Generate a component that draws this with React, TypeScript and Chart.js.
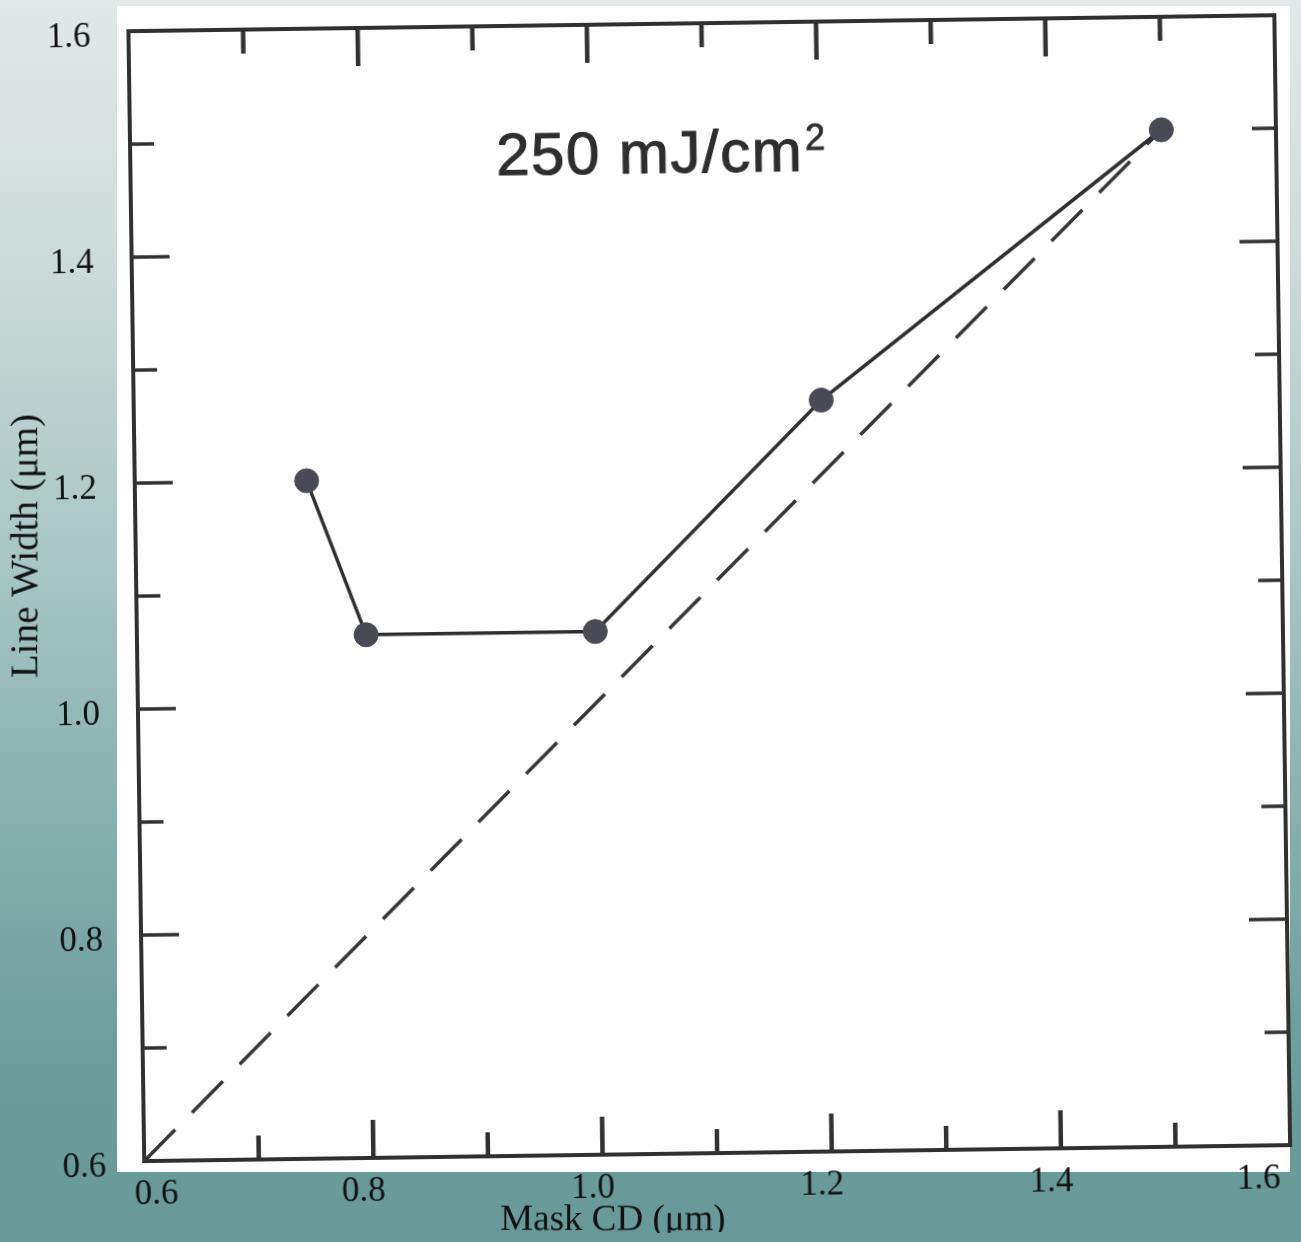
import React, { useEffect, useRef } from "react";
import { Chart, registerables } from "chart.js";

Chart.register(...registerables);

// ---- data ----
const maskCD = [0.75, 0.8, 1.0, 1.2, 1.5];
const lineWidthUm = [1.2, 1.063, 1.063, 1.265, 1.5];
const idealX = [0.6, 1.5];
const idealY = [0.6, 1.5];
const majorTicks = [0.6, 0.8, 1.0, 1.2, 1.4, 1.6];
const minorTicks = [0.7, 0.9, 1.1, 1.3, 1.5];
const titleMain = "250 mJ/cm";
const titleSup = "2";
const xTitle = "Mask CD (\u03bcm)";
const yTitle = "Line Width (\u03bcm)";

const TILT_DEG = -0.8;
const INK = "#303030";
const SERIF = "'Liberation Serif', 'Times New Roman', serif";
const SANS = "'Liberation Sans', Arial, sans-serif";

const framePlugin = {
  id: "frame",
  beforeDatasetsDraw(chart: any) {
    const { ctx, chartArea: a, scales } = chart;
    const xs = scales.x;
    const ys = scales.y;
    ctx.save();
    ctx.strokeStyle = INK;
    ctx.lineCap = "butt";
    ctx.lineWidth = 4;
    ctx.strokeRect(a.left, a.top, a.right - a.left, a.bottom - a.top);
    const seg = (x1: number, y1: number, x2: number, y2: number) => {
      ctx.beginPath();
      ctx.moveTo(x1, y1);
      ctx.lineTo(x2, y2);
      ctx.stroke();
    };
    const inner = (v: number) => v > 0.61 && v < 1.59;
    const marks: [number, number][] = [
      ...majorTicks.filter(inner).map((v) => [v, 38] as [number, number]),
      ...minorTicks.map((v) => [v, 24] as [number, number]),
    ];
    ctx.lineWidth = 4.5;
    for (const [v, len] of marks) {
      const px = xs.getPixelForValue(v);
      seg(px, a.bottom, px, a.bottom - len);
      seg(px, a.top, px, a.top + len);
    }
    ctx.lineWidth = 3.5;
    for (const [v, len] of marks) {
      const py = ys.getPixelForValue(v);
      seg(a.left, py, a.left + len, py);
      seg(a.right, py, a.right - len, py);
    }
    ctx.restore();
  },
  afterDraw(chart: any) {
    const { ctx } = chart;
    ctx.save();
    // title inside the scanned plot (rotated with it)
    ctx.fillStyle = "#2e2e2e";
    ctx.strokeStyle = "#2e2e2e";
    ctx.lineWidth = 1.1;
    ctx.font = `60px ${SANS}`;
    (ctx as any).letterSpacing = "1.5px";
    ctx.textAlign = "left";
    ctx.textBaseline = "alphabetic";
    ctx.fillText(titleMain, 494, 182);
    ctx.strokeText(titleMain, 494, 182);
    (ctx as any).letterSpacing = "0px";
    ctx.font = `36px ${SANS}`;
    ctx.lineWidth = 0.8;
    ctx.fillText(titleSup, 803, 161);
    ctx.strokeText(titleSup, 803, 161);
    ctx.restore();

    // axis titles in page coordinates (undo the tilt)
    ctx.save();
    ctx.rotate((-TILT_DEG * Math.PI) / 180);
    ctx.fillStyle = "#111111";
    ctx.font = `37px ${SERIF}`;
    ctx.textAlign = "center";
    ctx.textBaseline = "alphabetic";
    ctx.fillText(xTitle, 613, 1230);
    ctx.translate(27, 546);
    ctx.rotate(-Math.PI / 2);
    ctx.font = `39px ${SERIF}`;
    ctx.textBaseline = "middle";
    ctx.fillText(yTitle, 0, 0);
    ctx.restore();
  },
};

export default function App() {
  const canvasRef = useRef<HTMLCanvasElement | null>(null);

  useEffect(() => {
    const canvas = canvasRef.current;
    if (!canvas) return;
    const tickFont = { family: SERIF, size: 35 };
    const chart = new Chart(canvas, {
      type: "line",
      data: {
        datasets: [
          {
            data: maskCD.map((x, i) => ({ x, y: lineWidthUm[i] })),
            borderColor: "#2e2e2e",
            borderWidth: 3.5,
            pointRadius: 12,
            pointBackgroundColor: "#4a4a56",
            pointBorderColor: "#4a4a56",
            pointBorderWidth: 1,
            tension: 0,
            fill: false,
          },
          {
            data: idealX.map((x, i) => ({ x, y: idealY[i] })),
            borderColor: "#353535",
            borderWidth: 3.5,
            borderDash: [44, 24],
            pointRadius: 0,
            tension: 0,
            fill: false,
          },
        ],
      },
      options: {
        animation: false,
        responsive: false,
        devicePixelRatio: 1,
        layout: { padding: { left: 0, top: 33, right: 27, bottom: 0 } },
        plugins: {
          legend: { display: false },
          tooltip: { enabled: false },
          title: { display: false },
        },
        scales: {
          x: {
            type: "linear",
            min: 0.6,
            max: 1.6,
            afterBuildTicks: (s: any) => {
              s.ticks = majorTicks.map((v) => ({ value: v }));
            },
            afterFit: (s: any) => {
              s.height = 79;
            },
            grid: { display: false, drawTicks: true, tickLength: 13 },
            border: { display: false },
            ticks: {
              font: tickFont,
              color: "#111111",
              padding: 0,
              align: "inner",
              labelOffset: -10,
              maxRotation: 0,
              autoSkip: false,
              callback: (v: any) => Number(v).toFixed(1),
            },
          },
          y: {
            type: "linear",
            min: 0.6,
            max: 1.6,
            afterBuildTicks: (s: any) => {
              s.ticks = majorTicks.map((v) => ({ value: v }));
            },
            afterFit: (s: any) => {
              s.width = 128;
            },
            grid: { display: false, drawTicks: true, tickLength: 36 },
            border: { display: false },
            ticks: {
              font: tickFont,
              color: "#111111",
              padding: 2,
              labelOffset: 6,
              autoSkip: false,
              callback: (v: any) => Number(v).toFixed(1),
            },
          },
        },
      },
      plugins: [framePlugin],
    } as any);
    return () => chart.destroy();
  }, []);

  return (
    <div
      style={{
        position: "fixed",
        left: 0,
        top: 0,
        width: 1301,
        height: 1242,
        overflow: "hidden",
        background:
          "linear-gradient(180deg, #e2e9e8 0%, #cbdad8 22%, #a9c6c4 45%, #87b0ae 66%, #6d9e9c 84%, #669997 100%)",
      }}
    >
      <div
        style={{
          position: "absolute",
          left: 117,
          top: 6,
          width: 1173,
          height: 1166,
          background: "#fefefe",
        }}
      />
      <canvas
        ref={canvasRef}
        width={1301}
        height={1242}
        style={{
          position: "absolute",
          left: 0,
          top: 0,
          width: 1301,
          height: 1242,
          transform: `rotate(${TILT_DEG}deg)`,
          transformOrigin: "0 0",
        }}
      />
    </div>
  );
}
